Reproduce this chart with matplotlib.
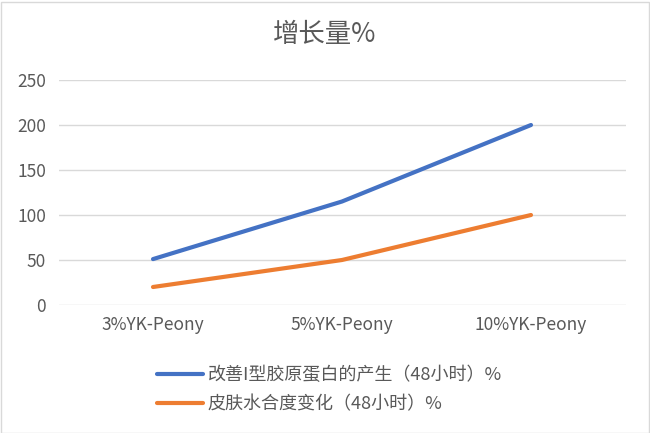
import matplotlib
matplotlib.use("Agg")
import matplotlib.pyplot as plt
from matplotlib.patches import Rectangle

plt.rcParams['font.family'] = ['Noto Sans CJK SC', 'DejaVu Sans']

categories = ["3%YK-Peony", "5%YK-Peony", "10%YK-Peony"]
series_names = ["改善I型胶原蛋白的产生（48小时）%", "皮肤水合度变化（48小时）%"]
collagen = [51, 115, 200]
hydration = [20, 50, 100]
yticks = [0, 50, 100, 150, 200, 250]
colors = ["#4472C4", "#ED7D31"]

fig = plt.figure(figsize=(6.5, 4.33), dpi=100)
ax = fig.add_axes([58.5/650, (433-305)/433, (625.5-58.5)/650, 225/433])

x = list(range(len(categories)))
for vals, name, c in zip([collagen, hydration], series_names, colors):
    ax.plot(x, vals, color=c, linewidth=3, solid_capstyle='round', label=name)

ax.set_xlim(-0.5, len(categories) - 0.5)
ax.set_ylim(0, 250)
ax.set_yticks(yticks)
ax.set_xticks(x)
ax.set_xticklabels(categories)
ax.grid(axis='y', color='#d9d9d9', linewidth=1)
ax.set_axisbelow(True)
for s in ax.spines.values():
    s.set_visible(False)
ax.tick_params(axis='both', length=0, labelsize=12.5, colors='#595959')
ax.tick_params(axis='y', pad=9)
ax.tick_params(axis='x', pad=8)

fig.text(0.5, (433-35)/433, "增长量%", ha='center', va='center', fontsize=19, color='#595959')

leg = fig.legend(loc='upper left', bbox_to_anchor=(157/650, (433-366)/433),
                 frameon=False, fontsize=13, handlelength=2.55, labelspacing=0.6,
                 borderaxespad=0, handletextpad=0.25, borderpad=0)
for t in leg.get_texts():
    t.set_color('#595959')

fig.patches.append(Rectangle((0.5/650, 0.5/433), 648/650, 431/433, transform=fig.transFigure,
                             fill=False, edgecolor='#d9d9d9', linewidth=1))

fig.savefig("out.png", dpi=100)
